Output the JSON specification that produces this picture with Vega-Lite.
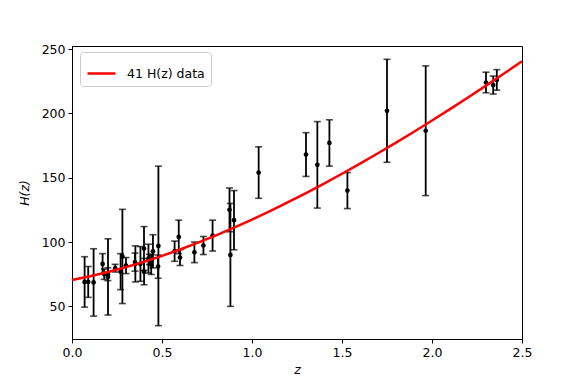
{
  "$schema": "https://vega.github.io/schema/vega-lite/v6.json",
  "width": 450,
  "height": 293,
  "autosize": {"type": "none"},
  "padding": {"left": 72, "top": 46, "right": 59, "bottom": 49},
  "background": "white",
  "config": {
    "font": "DejaVu Sans",
    "view": {"stroke": "black", "strokeWidth": 1},
    "axis": {
      "grid": false,
      "domainColor": "black",
      "tickColor": "black",
      "labelColor": "black",
      "titleColor": "black",
      "labelFont": "DejaVu Sans",
      "titleFont": "DejaVu Sans",
      "labelFontSize": 12.5,
      "titleFontSize": 12.5,
      "titleFontWeight": "normal",
      "tickSize": 4,
      "labelPadding": 3,
      "labelFlush": false,
      "labelOverlap": false
    }
  },
  "datasets": {
    "hz": [
      {"z": 0.07, "H": 69, "sigma": 19.6},
      {"z": 0.09, "H": 69, "sigma": 12},
      {"z": 0.12, "H": 68.6, "sigma": 26.2},
      {"z": 0.17, "H": 83, "sigma": 8},
      {"z": 0.179, "H": 75, "sigma": 4},
      {"z": 0.199, "H": 75, "sigma": 5},
      {"z": 0.2, "H": 72.9, "sigma": 29.6},
      {"z": 0.24, "H": 79.69, "sigma": 2.99},
      {"z": 0.27, "H": 77, "sigma": 14},
      {"z": 0.28, "H": 88.8, "sigma": 36.6},
      {"z": 0.3, "H": 81.7, "sigma": 6.22},
      {"z": 0.35, "H": 84.4, "sigma": 7},
      {"z": 0.352, "H": 83, "sigma": 14},
      {"z": 0.3802, "H": 83, "sigma": 13.5},
      {"z": 0.4, "H": 95, "sigma": 17},
      {"z": 0.4004, "H": 77, "sigma": 10.2},
      {"z": 0.4247, "H": 87.1, "sigma": 11.2},
      {"z": 0.43, "H": 86.45, "sigma": 3.97},
      {"z": 0.44, "H": 82.6, "sigma": 7.8},
      {"z": 0.4497, "H": 92.8, "sigma": 12.9},
      {"z": 0.4783, "H": 80.9, "sigma": 9},
      {"z": 0.48, "H": 97, "sigma": 62},
      {"z": 0.57, "H": 92.9, "sigma": 7.855},
      {"z": 0.593, "H": 104, "sigma": 13},
      {"z": 0.6, "H": 87.9, "sigma": 6.1},
      {"z": 0.68, "H": 92, "sigma": 8},
      {"z": 0.73, "H": 97.3, "sigma": 7},
      {"z": 0.781, "H": 105, "sigma": 12},
      {"z": 0.875, "H": 125, "sigma": 17},
      {"z": 0.88, "H": 90, "sigma": 40},
      {"z": 0.9, "H": 117, "sigma": 23},
      {"z": 1.037, "H": 154, "sigma": 20},
      {"z": 1.3, "H": 168, "sigma": 17},
      {"z": 1.363, "H": 160, "sigma": 33.6},
      {"z": 1.43, "H": 177, "sigma": 18},
      {"z": 1.53, "H": 140, "sigma": 14},
      {"z": 1.75, "H": 202, "sigma": 40},
      {"z": 1.965, "H": 186.5, "sigma": 50.4},
      {"z": 2.3, "H": 224, "sigma": 8},
      {"z": 2.34, "H": 222, "sigma": 7},
      {"z": 2.36, "H": 226, "sigma": 8}
    ],
    "fit": [
      {"z": 0.0, "H": 70.5},
      {"z": 0.1, "H": 73.4},
      {"z": 0.2, "H": 76.74},
      {"z": 0.3, "H": 80.51},
      {"z": 0.4, "H": 84.69},
      {"z": 0.5, "H": 89.27},
      {"z": 0.6, "H": 94.23},
      {"z": 0.7, "H": 99.55},
      {"z": 0.8, "H": 105.22},
      {"z": 0.9, "H": 111.21},
      {"z": 1.0, "H": 117.5},
      {"z": 1.1, "H": 124.09},
      {"z": 1.2, "H": 130.96},
      {"z": 1.3, "H": 138.09},
      {"z": 1.4, "H": 145.46},
      {"z": 1.5, "H": 153.08},
      {"z": 1.6, "H": 160.92},
      {"z": 1.7, "H": 168.99},
      {"z": 1.8, "H": 177.26},
      {"z": 1.9, "H": 185.73},
      {"z": 2.0, "H": 194.41},
      {"z": 2.1, "H": 203.27},
      {"z": 2.2, "H": 212.31},
      {"z": 2.3, "H": 221.53},
      {"z": 2.4, "H": 230.93},
      {"z": 2.5, "H": 240.49}
    ]
  },
  "encoding": {
    "x": {
      "field": "z",
      "type": "quantitative",
      "scale": {"domain": [0, 2.5], "nice": false, "zero": false},
      "axis": {"values": [0, 0.5, 1, 1.5, 2, 2.5], "format": ".1f", "title": "z", "titleFontStyle": "italic", "titlePadding": 5}
    },
    "y": {
      "field": "H",
      "type": "quantitative",
      "scale": {"domain": [24.65, 252.35], "nice": false, "zero": false},
      "axis": {"values": [50, 100, 150, 200, 250], "title": "H(z)", "titleFontStyle": "italic", "titlePadding": 10}
    }
  },
  "layer": [
    {
      "data": {"name": "hz"},
      "mark": {"type": "errorbar", "ticks": {"size": 7, "thickness": 1.6, "color": "black"}, "rule": {"strokeWidth": 1.8, "color": "black"}, "color": "black"},
      "encoding": {
        "x": {"field": "z", "type": "quantitative"},
        "y": {"field": "H", "type": "quantitative"},
        "yError": {"field": "sigma"}
      }
    },
    {
      "data": {"name": "hz"},
      "mark": {"type": "point", "filled": true, "color": "black", "size": 22, "opacity": 1}
    },
    {
      "data": {"name": "fit"},
      "mark": {"type": "line", "strokeWidth": 2.5},
      "encoding": {
        "color": {
          "datum": "41 H(z) data",
          "type": "nominal",
          "scale": {"range": ["#ff0000"]},
          "legend": {
            "title": null,
            "orient": "none",
            "legendX": 8,
            "legendY": 6,
            "symbolType": "stroke",
            "symbolSize": 784,
            "symbolStrokeWidth": 2.5,
            "labelFontSize": 12.5,
            "labelFont": "DejaVu Sans",
            "labelColor": "black",
            "labelOffset": 10,
            "padding": 6,
            "strokeColor": "#cccccc",
            "fillColor": "white",
            "cornerRadius": 3
          }
        }
      }
    }
  ]
}
